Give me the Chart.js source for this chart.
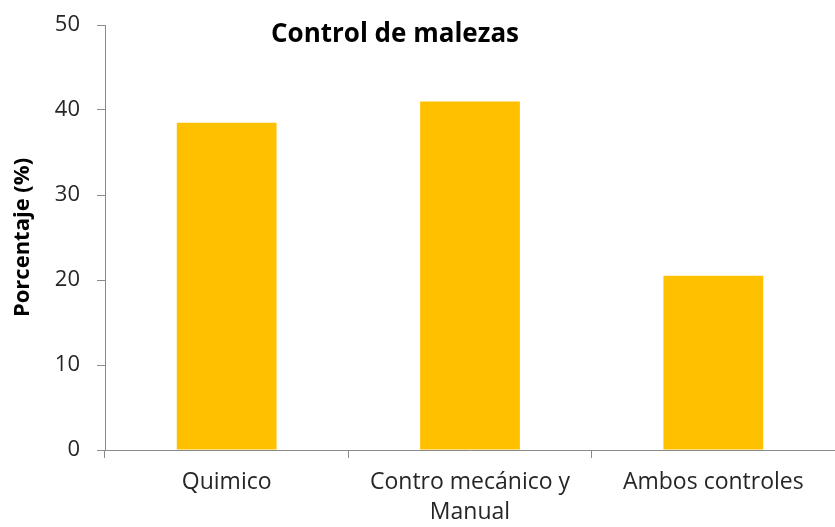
<!DOCTYPE html>
<html>
<head>
<meta charset="utf-8">
<script src="https://cdn.jsdelivr.net/npm/chart.js@4/dist/chart.umd.min.js"></script>
<style>
  html, body { margin: 0; padding: 0; background: #fff; }
  #wrap { width: 835px; height: 527px; }
</style>
</head>
<body>
<div id="wrap"><canvas id="myChart"></canvas></div>
<script>
// data
const categories = ['Quimico', ['Contro mecánico y', 'Manual'], 'Ambos controles'];
const porcentajes = [38.5, 41, 20.5];
const chartTitle = 'Control de malezas';
const yTitle = 'Porcentaje (%)';

Chart.defaults.font.family = '"Open Sans", "Noto Sans", sans-serif';
Chart.defaults.color = '#262626';

const axisGray = '#8a8a8a';

// title sits inside the plot area, a bit left of centre
const titleInside = {
    id: 'titleInside',
    afterDraw(chart) {
        const ctx = chart.ctx;
        ctx.save();
        ctx.font = 'bold 26px "Open Sans", sans-serif';
        ctx.fillStyle = '#000';
        ctx.textAlign = 'center';
        ctx.textBaseline = 'middle';
        ctx.fillText(chartTitle, 395, 35);
        ctx.restore();
    }
};

new Chart(document.getElementById('myChart'), {
    type: 'bar',
    data: {
        labels: categories,
        datasets: [{
            data: porcentajes,
            backgroundColor: '#ffc000',
            barPercentage: 0.41,
            categoryPercentage: 1
        }]
    },
    options: {
        responsive: true,
        maintainAspectRatio: false,
        animation: false,
        layout: {
            padding: { top: 25, left: 0, right: 0, bottom: 0 }
        },
        scales: {
            y: {
                min: 0,
                max: 50,
                ticks: {
                    stepSize: 10,
                    padding: 17,
                    font: { size: 22 }
                },
                grid: {
                    drawOnChartArea: false,
                    tickLength: 8,
                    color: axisGray
                },
                border: { color: axisGray, width: 1 },
                title: {
                    display: true,
                    text: yTitle,
                    font: { size: 22, weight: 'bold' },
                    color: '#000',
                    padding: { top: 10, bottom: 0 }
                },
                afterFit(scale) {
                    scale.width = 105;
                    scale.paddingTop = 0;
                }
            },
            x: {
                offset: true,
                ticks: {
                    maxRotation: 0,
                    padding: 10,
                    font: { size: 23, lineHeight: 1.3 }
                },
                grid: {
                    offset: true,
                    drawOnChartArea: false,
                    tickLength: 8,
                    color: axisGray
                },
                border: { color: axisGray, width: 1 },
                afterFit(scale) { scale.height = 77; }
            }
        },
        plugins: {
            legend: { display: false },
            tooltip: { enabled: false }
        }
    },
    plugins: [titleInside]
});
</script>
</body>
</html>
